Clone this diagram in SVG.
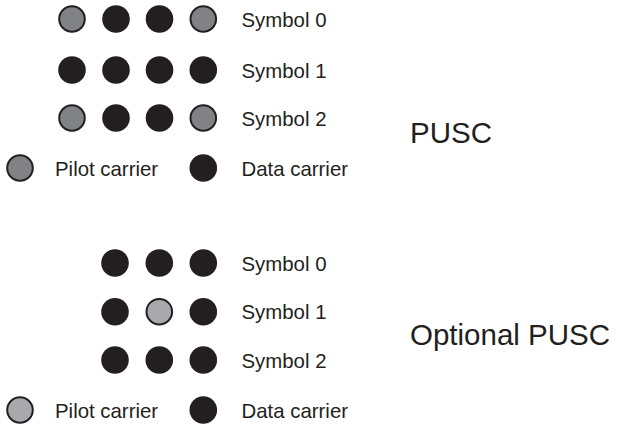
<svg xmlns="http://www.w3.org/2000/svg" width="621" height="429" viewBox="0 0 621 429">
<style>
text{font-family:"Liberation Sans",Arial,sans-serif;fill:#231f20}
.lbl{font-size:20.4px}
.big{font-size:29.5px}
.d{fill:#231f20}
.p1{fill:#808285;stroke:#231f20;stroke-width:2}
.p2{fill:#a7a9ac;stroke:#231f20;stroke-width:2}
</style>
<rect width="621" height="429" fill="#fff"/>
<g id="pusc">
<g id="pusc-sym0">
<circle class="p1" cx="72" cy="19" r="12.8"/>
<circle class="d" cx="116" cy="19" r="13.8"/>
<circle class="d" cx="159.5" cy="19" r="13.8"/>
<circle class="p1" cx="203.3" cy="19" r="12.8"/>
<text class="lbl" x="241.5" y="26.5">Symbol 0</text>
</g>
<g id="pusc-sym1">
<circle class="d" cx="72" cy="70" r="13.8"/>
<circle class="d" cx="116" cy="70" r="13.8"/>
<circle class="d" cx="159.5" cy="70" r="13.8"/>
<circle class="d" cx="203.3" cy="70" r="13.8"/>
<text class="lbl" x="241.5" y="77.5">Symbol 1</text>
</g>
<g id="pusc-sym2">
<circle class="p1" cx="72" cy="118" r="12.8"/>
<circle class="d" cx="116" cy="118" r="13.8"/>
<circle class="d" cx="159.5" cy="118" r="13.8"/>
<circle class="p1" cx="203.3" cy="118" r="12.8"/>
<text class="lbl" x="241.5" y="125.5">Symbol 2</text>
</g>
<g id="pusc-legend">
<circle class="p1" cx="20" cy="168" r="12.8"/>
<text class="lbl" x="55" y="175.5">Pilot carrier</text>
<circle class="d" cx="203.3" cy="168" r="13.8"/>
<text class="lbl" x="241.5" y="175.5">Data carrier</text>
</g>
<text id="pusc-title" class="big" x="410" y="143">PUSC</text>
</g>
<g id="opusc">
<g id="opusc-sym0">
<circle class="d" cx="115" cy="263" r="13.8"/>
<circle class="d" cx="159.3" cy="263" r="13.8"/>
<circle class="d" cx="203.3" cy="263" r="13.8"/>
<text class="lbl" x="241.5" y="270.5">Symbol 0</text>
</g>
<g id="opusc-sym1">
<circle class="d" cx="115" cy="311.7" r="13.8"/>
<circle class="p2" cx="159.3" cy="311.7" r="12.8"/>
<circle class="d" cx="203.3" cy="311.7" r="13.8"/>
<text class="lbl" x="241.5" y="319">Symbol 1</text>
</g>
<g id="opusc-sym2">
<circle class="d" cx="115" cy="360" r="13.8"/>
<circle class="d" cx="159.3" cy="360" r="13.8"/>
<circle class="d" cx="203.3" cy="360" r="13.8"/>
<text class="lbl" x="241.5" y="367.5">Symbol 2</text>
</g>
<g id="opusc-legend">
<circle class="p2" cx="20" cy="410" r="12.8"/>
<text class="lbl" x="55" y="417.5">Pilot carrier</text>
<circle class="d" cx="203.3" cy="410" r="13.8"/>
<text class="lbl" x="241.5" y="417.5">Data carrier</text>
</g>
<text id="opusc-title" class="big" x="410" y="345">Optional PUSC</text>
</g>
<g id="connectors"/>
</svg>
